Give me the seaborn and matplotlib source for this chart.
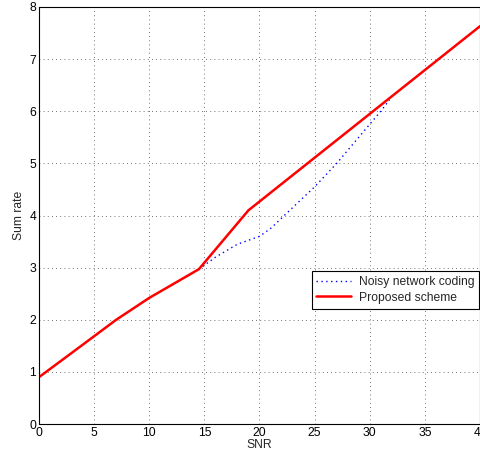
import numpy as np
import pandas as pd
import seaborn as sns
import matplotlib
matplotlib.use('Agg')
import matplotlib.pyplot as plt

# 数据
snr_proposed = [0, 3, 7, 10, 14.5, 19, 40]
rate_proposed = [0.9, 1.37, 2.0, 2.42, 2.97, 4.1, 7.63]
snr_noisy = [14.5, 16, 18, 20, 21, 22.5, 25, 27, 29, 31, 31.8]
rate_noisy = [2.97, 3.2, 3.45, 3.6, 3.75, 4.05, 4.55, 5.0, 5.5, 6.0, 6.22]

sns.set_style('white')
plt.rcParams['font.family'] = ['Liberation Sans', 'DejaVu Sans']
fs = 8.7

fig = plt.figure(figsize=(4.81, 4.59), dpi=100)
ax = fig.add_axes([0.081, 0.076, 0.917, 0.909])

df_n = pd.DataFrame({'SNR': snr_noisy, 'rate': rate_noisy})
df_p = pd.DataFrame({'SNR': snr_proposed, 'rate': rate_proposed})
sns.lineplot(data=df_n, x='SNR', y='rate', ax=ax, color='blue', linestyle=(0, (1, 2.5)),
             linewidth=1, label='Noisy network coding')
sns.lineplot(data=df_p, x='SNR', y='rate', ax=ax, color='red', linewidth=1.8,
             label='Proposed scheme')

ax.set_xlim(0, 40)
ax.set_ylim(0, 8)
ax.set_xticks(range(0, 41, 5))
ax.set_yticks(range(0, 9))
ax.grid(True, linestyle=(0, (1, 4)), color='#444444', linewidth=0.6)
ax.tick_params(direction='in', length=3, labelsize=fs, pad=2, colors='black')
for s in ax.spines.values():
    s.set_color('black')
    s.set_linewidth(0.8)
ax.set_xlabel('SNR', fontsize=fs, labelpad=0)
ax.set_ylabel('Sum rate', fontsize=fs, labelpad=3)

leg = ax.legend(loc='lower right', bbox_to_anchor=(0.998, 0.277), fontsize=fs,
                frameon=True, fancybox=False, edgecolor='black', framealpha=1,
                borderpad=0.4, handlelength=2.9, handletextpad=0.6,
                labelspacing=0.3, borderaxespad=0)
leg.get_frame().set_linewidth(0.8)

fig.savefig('out.png', dpi=100)
